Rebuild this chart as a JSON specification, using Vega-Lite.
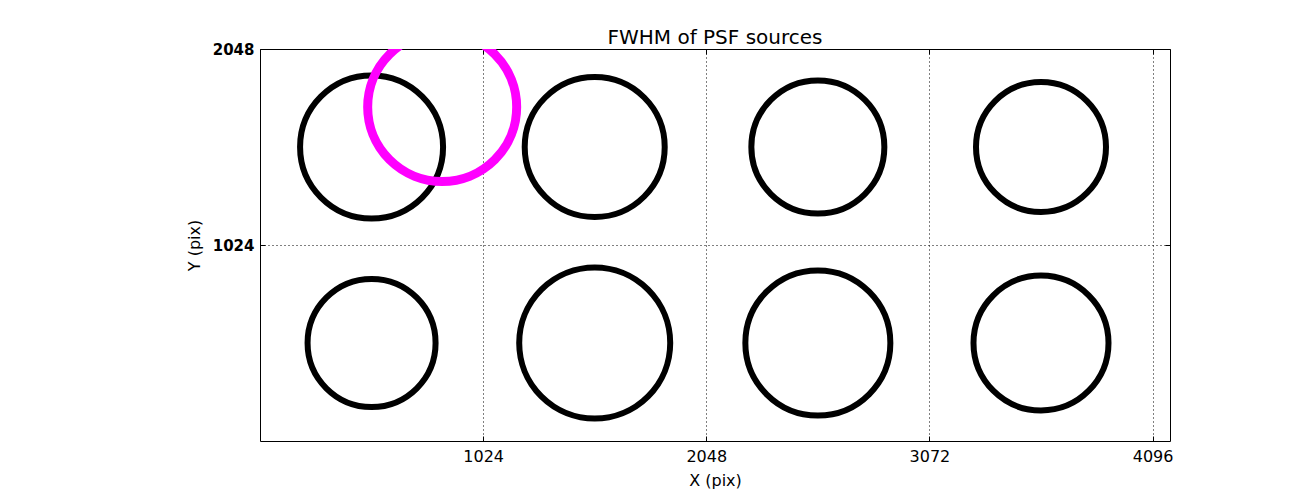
{
  "$schema": "https://vega.github.io/schema/vega-lite/v6.json",
  "width": 910,
  "height": 392,
  "autosize": {"type": "none"},
  "padding": {"left": 260, "top": 49, "right": 130, "bottom": 49},
  "background": "white",
  "title": {"text": "FWHM of PSF sources", "fontSize": 20, "font": "DejaVu Sans", "fontWeight": "normal", "color": "black", "offset": -6, "anchor": "middle"},
  "config": {
    "view": {"stroke": "black", "strokeWidth": 1},
    "axis": {
      "labelFont": "DejaVu Sans", "labelFontSize": 16, "labelColor": "black",
      "titleFont": "DejaVu Sans", "titleFontSize": 16, "titleFontWeight": "normal", "titleColor": "black",
      "domain": false, "tickColor": "black", "tickSize": -5, "tickWidth": 1,
      "gridColor": "black", "gridDash": [1, 3], "gridWidth": 1, "gridOpacity": 1
    }
  },
  "data": {"values": [
    {"x": 512, "y": 1536, "fwhm": 14.3, "kind": "source"},
    {"x": 1536, "y": 1536, "fwhm": 14.0, "kind": "source"},
    {"x": 2560, "y": 1536, "fwhm": 13.3, "kind": "source"},
    {"x": 3584, "y": 1536, "fwhm": 13.0, "kind": "source"},
    {"x": 512, "y": 512, "fwhm": 12.8, "kind": "source"},
    {"x": 1536, "y": 512, "fwhm": 15.1, "kind": "source"},
    {"x": 2560, "y": 512, "fwhm": 14.5, "kind": "source"},
    {"x": 3584, "y": 512, "fwhm": 13.5, "kind": "source"},
    {"x": 836, "y": 1745, "fwhm": 14.9, "kind": "reference"}
  ]},
  "layer": [
    {
      "transform": [{"filter": "datum.kind === 'source'"}],
      "mark": {"type": "point", "filled": false, "stroke": "black", "strokeWidth": 6, "opacity": 1, "clip": true},
      "encoding": {
        "x": {"field": "x", "type": "quantitative", "scale": {"domain": [0, 4176], "nice": false, "zero": false},
              "axis": {"values": [1024, 2048, 3072, 4096], "format": "d", "title": "X (pix)", "labelPadding": 12, "titlePadding": 8, "grid": true}},
        "y": {"field": "y", "type": "quantitative", "scale": {"domain": [0, 2048], "nice": false, "zero": false},
              "axis": {"values": [1024, 2048], "format": "d", "title": "Y (pix)", "labelPadding": 11, "titlePadding": 10, "labelFontSize": 15, "labelFontWeight": "bold", "grid": true}},
        "size": {"field": "fwhm", "type": "quantitative", "scale": {"type": "pow", "exponent": 2, "domain": [0, 20], "range": [0, 40000]}, "legend": null}
      }
    },
    {
      "transform": [{"filter": "datum.kind === 'reference'"}],
      "mark": {"type": "point", "filled": false, "stroke": "#ff00ff", "strokeWidth": 9, "opacity": 1, "clip": true},
      "encoding": {
        "x": {"field": "x", "type": "quantitative",
              "axis": {"orient": "top", "values": [1024, 2048, 3072, 4096], "labels": false, "title": null, "grid": false}},
        "y": {"field": "y", "type": "quantitative",
              "axis": {"orient": "right", "values": [1024, 2048], "labels": false, "title": null, "grid": false}},
        "size": {"field": "fwhm", "type": "quantitative", "legend": null}
      }
    }
  ],
  "resolve": {"axis": {"x": "independent", "y": "independent"}}
}
